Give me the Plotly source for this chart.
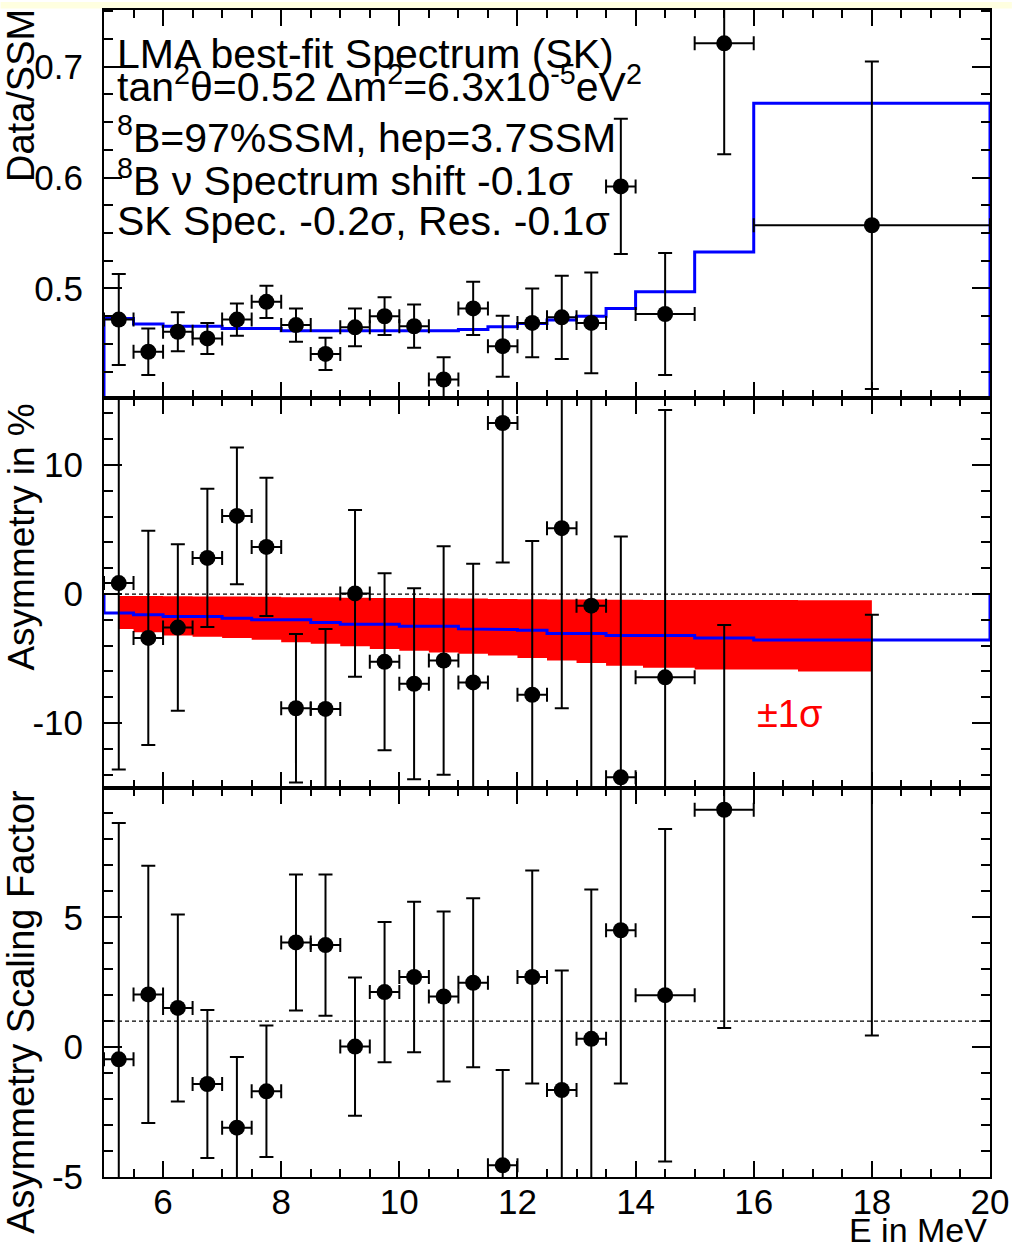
import plotly.graph_objects as go

# ---------------- data ----------------
bin_lo = [5.0, 5.5, 6.0, 6.5, 7.0, 7.5, 8.0, 8.5, 9.0, 9.5, 10.0, 10.5, 11.0, 11.5,
          12.0, 12.5, 13.0, 13.5, 14.0, 15.0, 16.0]
bin_hi = [5.5, 6.0, 6.5, 7.0, 7.5, 8.0, 8.5, 9.0, 9.5, 10.0, 10.5, 11.0, 11.5, 12.0,
          12.5, 13.0, 13.5, 14.0, 15.0, 16.0, 20.0]

# Data/SSM
ratio = [0.472, 0.443, 0.461, 0.455, 0.472, 0.488, 0.467, 0.441, 0.465, 0.475, 0.466,
         0.418, 0.482, 0.448, 0.469, 0.474, 0.469, 0.592, 0.477, 0.721, 0.557]
ratio_err = [0.041, 0.021, 0.0175, 0.014, 0.0145, 0.0145, 0.015, 0.0145, 0.017, 0.017,
             0.0195, 0.020, 0.024, 0.0275, 0.031, 0.0375, 0.0455, 0.061, 0.055, 0.100, 0.1475]
lma_ratio = [0.473, 0.468, 0.466, 0.466, 0.464, 0.464, 0.462, 0.462, 0.462, 0.462, 0.462,
             0.462, 0.463, 0.4655, 0.4685, 0.4715, 0.475, 0.482, 0.497, 0.533, 0.667]

# Asymmetry in %
asym = [0.85, -3.4, -2.6, 2.8, 6.05, 3.65, -8.85, -8.9, 0.05, -5.25, -6.95, -5.15, -6.85,
        13.25, -7.8, 5.1, -0.9, -14.2, -6.45, -31.0, -46.3]
asym_err = [14.45, 8.3, 6.45, 5.35, 5.3, 5.35, 5.75, 6.2, 6.45, 6.85, 7.4, 8.85, 9.2,
            10.8, 11.9, 13.95, 17.3, 18.65, 20.7, 28.6, 44.7]
lma_asym = [-1.47, -1.60, -1.75, -1.75, -1.88, -2.00, -2.00, -2.20, -2.35, -2.35, -2.50,
            -2.50, -2.70, -2.75, -2.80, -3.05, -3.05, -3.22, -3.22, -3.40, -3.56]
band_lo = [-2.71, -2.97, -3.22, -3.30, -3.40, -3.55, -3.74, -3.85, -4.05, -4.25, -4.40,
           -4.52, -4.62, -4.77, -4.95, -5.15, -5.35, -5.55, -5.72, -5.85, -6.0]
band_hi = [-0.15, -0.15, -0.18, -0.20, -0.20, -0.22, -0.25, -0.25, -0.28, -0.30, -0.30,
           -0.33, -0.35, -0.38, -0.40, -0.42, -0.43, -0.45, -0.46, -0.47, -0.48]

# Asymmetry scaling factor
scale = [-0.47, 2.03, 1.51, -1.42, -3.1, -1.7, 4.03, 3.93, 0.02, 2.12, 2.7, 1.95, 2.48,
         -4.55, 2.7, -1.65, 0.32, 4.5, 2.0, 9.14, 13.0]
scale_err = [9.1, 4.95, 3.6, 2.85, 2.72, 2.53, 2.62, 2.72, 2.66, 2.7, 2.9, 3.27, 3.25,
             3.67, 4.1, 4.6, 5.75, 5.9, 6.4, 8.4, 12.55]

# tick labels
top_ticks = [0.5, 0.6, 0.7]
top_ticklabels = ["0.5", "0.6", "0.7"]
mid_ticks = [-10, 0, 10]
mid_ticklabels = ["-10", "0", "10"]
bot_ticks = [-5, 0, 5]
bot_ticklabels = ["-5", "0", "5"]
x_ticks = [6, 8, 10, 12, 14, 16, 18, 20]
x_ticklabels = ["6", "8", "10", "12", "14", "16", "18", "20"]

text_lines = [
    "LMA best-fit Spectrum (SK)",
    "tan<sup>2</sup>θ=0.52 Δm<sup>2</sup>=6.3x10<sup>-5</sup>eV<sup>2</sup>",
    "<sup>8</sup>B=97%SSM, hep=3.7SSM",
    "<sup>8</sup>B ν Spectrum shift -0.1σ",
    "SK Spec. -0.2σ, Res. -0.1σ",
]

# ---------------- derived ----------------
centers = [(a + b) / 2 for a, b in zip(bin_lo, bin_hi)]
half_w = [(b - a) / 2 for a, b in zip(bin_lo, bin_hi)]


def hist_outline(vals):
    xs, ys = [bin_lo[0]], [0.0]
    for a, b, v in zip(bin_lo, bin_hi, vals):
        xs += [a, b]
        ys += [v, v]
    xs.append(bin_hi[-1])
    ys.append(0.0)
    return xs, ys


FONT = "Liberation Sans, Arial, Helvetica, sans-serif"
W, H = 1017, 1250
ML, MR, MT, MB = 104, 22, 8, 73
PW, PH = W - ML - MR, H - MT - MB


def py(px):  # pixel y -> paper y
    return (H - MB - px) / PH


def pxx(px):  # pixel x -> paper x
    return (px - ML) / PW


fig = go.Figure()

err_style = dict(type="data", color="black", thickness=2, width=7)
marker_style = dict(color="black", size=16, symbol="circle")

# top panel
hx, hy = hist_outline(lma_ratio)
fig.add_trace(go.Scatter(x=hx, y=hy, mode="lines", line=dict(color="#0000ff", width=3),
                         xaxis="x", yaxis="y", showlegend=False, hoverinfo="skip"))
fig.add_trace(go.Scatter(x=centers, y=ratio, mode="markers", marker=marker_style,
                         error_y=dict(array=ratio_err, **err_style),
                         error_x=dict(array=half_w, **err_style),
                         xaxis="x", yaxis="y", showlegend=False))

# middle panel
fig.add_trace(go.Scatter(x=centers, y=band_lo, mode="lines", line=dict(width=0, shape="hvh"),
                         xaxis="x2", yaxis="y2", showlegend=False, hoverinfo="skip"))
fig.add_trace(go.Scatter(x=centers, y=band_hi, mode="lines", line=dict(width=0, shape="hvh"),
                         fill="tonexty", fillcolor="#ff0000",
                         xaxis="x2", yaxis="y2", showlegend=False, hoverinfo="skip"))
hx2, hy2 = hist_outline(lma_asym)
fig.add_trace(go.Scatter(x=hx2, y=hy2, mode="lines", line=dict(color="#0000ff", width=3),
                         xaxis="x2", yaxis="y2", showlegend=False, hoverinfo="skip"))
fig.add_trace(go.Scatter(x=centers, y=asym, mode="markers", marker=marker_style,
                         error_y=dict(array=asym_err, **err_style),
                         error_x=dict(array=half_w, **err_style),
                         xaxis="x2", yaxis="y2", showlegend=False))

# bottom panel
fig.add_trace(go.Scatter(x=centers, y=scale, mode="markers", marker=marker_style,
                         error_y=dict(array=scale_err, **err_style),
                         error_x=dict(array=half_w, **err_style),
                         xaxis="x3", yaxis="y3", showlegend=False))

tickfont = dict(family=FONT, size=35, color="black")


def xax(anchor, labels):
    return dict(range=[5, 20], domain=[0, 1], anchor=anchor, showline=True, linecolor="black",
                linewidth=2, mirror="allticks", ticks="inside", ticklen=16, tickwidth=1.5,
                tickcolor="black", tickmode="array", tickvals=x_ticks, ticktext=x_ticklabels,
                minor=dict(ticks="inside", ticklen=8, tickwidth=1.5, tickcolor="black",
                           tick0=0, dtick=0.5, showgrid=False),
                showticklabels=labels, tickfont=tickfont, showgrid=False, zeroline=False,
                ticklabelstandoff=-7)


def yax(anchor, rng, dom, tv, tt, mdtick):
    return dict(range=rng, domain=dom, anchor=anchor, showline=True, linecolor="black",
                linewidth=2, mirror="allticks", ticks="inside", ticklen=18, tickwidth=1.5,
                tickcolor="black", tickmode="array", tickvals=tv, ticktext=tt,
                minor=dict(ticks="inside", ticklen=9, tickwidth=1.5, tickcolor="black",
                           tick0=0, dtick=mdtick, showgrid=False),
                tickfont=tickfont, showgrid=False, zeroline=False, ticklabelstandoff=12)


d_top = [py(397), 1.0]
d_mid = [py(787), py(397)]
d_bot = [0.0, py(787)]

fig.update_layout(
    width=W, height=H,
    margin=dict(l=ML, r=MR, t=MT, b=MB, pad=0),
    paper_bgcolor="white", plot_bgcolor="white",
    font=dict(family=FONT, color="black"),
    xaxis=xax("y", False),
    xaxis2=xax("y2", False),
    xaxis3=xax("y3", True),
    yaxis=yax("x", [0.401, 0.751], d_top, top_ticks, top_ticklabels, 0.025),
    yaxis2=yax("x2", [-15.0, 15.16], d_mid, mid_ticks, mid_ticklabels, 2),
    yaxis3=yax("x3", [-5, 9.99], d_bot, bot_ticks, bot_ticklabels, 1),
    showlegend=False,
)

shapes = [
    dict(type="rect", xref="paper", yref="paper", x0=pxx(0), x1=pxx(W), y0=py(6.5), y1=py(0),
         fillcolor="#ffffe0", line=dict(width=0), layer="below"),
    dict(type="line", xref="x2", yref="y2", x0=5, x1=20, y0=0, y1=0,
         line=dict(color="black", width=1.3, dash="4px,3px"), layer="above"),
    dict(type="line", xref="x3", yref="y3", x0=5, x1=20, y0=1, y1=1,
         line=dict(color="black", width=1.3, dash="4px,3px"), layer="above"),
]
fig.update_layout(shapes=shapes)

ann = []
baselines = [68, 101, 152, 195, 235]
for t, b in zip(text_lines, baselines):
    ann.append(dict(text=t, xref="paper", yref="paper", x=pxx(116), y=py(b + 8.5),
                    xanchor="left", yanchor="bottom", showarrow=False, borderpad=0,
                    font=dict(family=FONT, size=41, color="black")))

ann.append(dict(text="±1σ", xref="x2", yref="y2", x=16.6, y=-9.26, xanchor="center",
                yanchor="middle", showarrow=False, font=dict(family=FONT, size=38, color="#ff0000")))

ann.append(dict(text="Data/SSM", xref="paper", yref="paper", x=pxx(20), y=py(5),
                xanchor="center", yanchor="top", textangle=-90, showarrow=False,
                font=dict(family=FONT, size=38, color="black")))
ann.append(dict(text="Asymmetry in %", xref="paper", yref="paper", x=pxx(21), y=py(536),
                xanchor="center", yanchor="middle", textangle=-90, showarrow=False,
                font=dict(family=FONT, size=37, color="black")))
ann.append(dict(text="Asymmetry Scaling Factor", xref="paper", yref="paper", x=pxx(21),
                y=py(1011), xanchor="center", yanchor="middle", textangle=-90, showarrow=False,
                font=dict(family=FONT, size=38, color="black")))
ann.append(dict(text="E in MeV", xref="paper", yref="paper", x=pxx(993), y=py(1250),
                xanchor="right", yanchor="bottom", showarrow=False, borderpad=0,
                font=dict(family=FONT, size=34, color="black")))
fig.update_layout(annotations=ann)

fig.write_html("out.html")
